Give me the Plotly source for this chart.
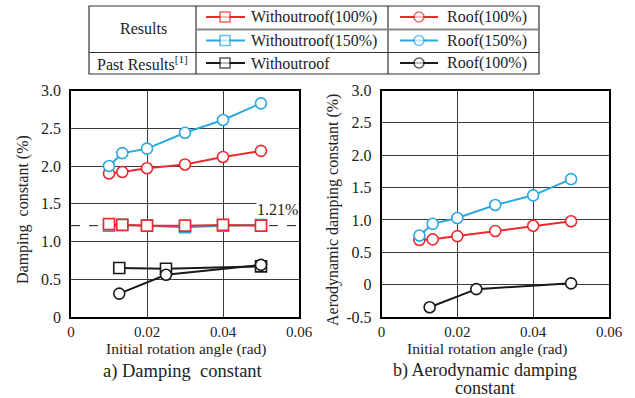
import plotly.graph_objects as go

# ---------------- data ----------------
x_res = [0.010, 0.0135, 0.020, 0.030, 0.040, 0.050]
x_past = [0.0127, 0.025, 0.050]

# a) Damping constant (%)
dc_wo100 = [1.23, 1.22, 1.21, 1.21, 1.22, 1.21]
dc_wo150 = [1.21, 1.22, 1.21, 1.19, 1.21, 1.22]
dc_roof100 = [1.90, 1.92, 1.97, 2.02, 2.12, 2.20]
dc_roof150 = [2.00, 2.17, 2.23, 2.44, 2.61, 2.83]
dc_past_wo = [0.65, 0.64, 0.67]
dc_past_roof = [0.31, 0.56, 0.69]
dc_ref = 1.21

# b) Aerodynamic damping constant (%)
adc_roof100 = [0.69, 0.70, 0.75, 0.83, 0.91, 0.98]
adc_roof150 = [0.76, 0.94, 1.03, 1.23, 1.38, 1.63]
adc_past_roof = [-0.35, -0.07, 0.02]

x_ticks = [0, 0.02, 0.04, 0.06]
x_ticktext = ["0", "0.02", "0.04", "0.06"]
ya_ticks = [0, 0.5, 1.0, 1.5, 2.0, 2.5, 3.0]
ya_ticktext = ["0", "0.5", "1.0", "1.5", "2.0", "2.5", "3.0"]
yb_ticks = [-0.5, 0, 0.5, 1.0, 1.5, 2.0, 2.5, 3.0]
yb_ticktext = ["-0.5", "0", "0.5", "1.0", "1.5", "2.0", "2.5", "3.0"]

legend_labels = ["Withoutroof(100%)", "Roof(100%)", "Withoutroof(150%)", "Roof(150%)",
                 "Withoutroof", "Roof(100%)"]

# ---------------- style ----------------
RED = "#EE2A2E"
BLUE = "#2AA8E0"
BLACK = "#1a1a1a"
FONT = "Liberation Serif, Times New Roman, serif"
W, H = 635, 398

fig = go.Figure()


def series(x, y, color, symbol, xa, ya):
    fig.add_trace(go.Scatter(
        x=x, y=y, mode="lines+markers", xaxis=xa, yaxis=ya,
        line=dict(color=color, width=2),
        marker=dict(symbol=symbol, size=11, color="white",
                    line=dict(color=color, width=1.6)),
        showlegend=False, hoverinfo="skip"))


# reference dashed line in a)
fig.add_trace(go.Scatter(x=[0, 0.06], y=[dc_ref, dc_ref], mode="lines",
                         xaxis="x", yaxis="y",
                         line=dict(color=BLACK, width=1, dash="dash"),
                         showlegend=False, hoverinfo="skip"))

series(x_past, dc_past_wo, BLACK, "square", "x", "y")
series(x_past, dc_past_roof, BLACK, "circle", "x", "y")
series(x_res, dc_wo150, BLUE, "square", "x", "y")
series(x_res, dc_wo100, RED, "square", "x", "y")
series(x_res, dc_roof100, RED, "circle", "x", "y")
series(x_res, dc_roof150, BLUE, "circle", "x", "y")

series(x_past, adc_past_roof, BLACK, "circle", "x2", "y2")
series(x_res, adc_roof100, RED, "circle", "x2", "y2")
series(x_res, adc_roof150, BLUE, "circle", "x2", "y2")

# ---------------- axes ----------------
ydom = [1 - 317 / H, 1 - 90.5 / H]
common_x = dict(range=[0, 0.06], tickvals=x_ticks, ticktext=x_ticktext,
                showgrid=True, gridcolor="#3a3a3a", gridwidth=1,
                showline=True, linecolor="black", linewidth=1.5, mirror=True,
                zeroline=False, ticks="", automargin=False,
                tickfont=dict(family=FONT, size=15, color="#222"))
common_y = dict(showgrid=True, gridcolor="#3a3a3a", gridwidth=1,
                showline=True, linecolor="black", linewidth=1.5, mirror=True,
                zeroline=False, ticks="outside", ticklen=5, tickcolor="rgba(0,0,0,0)",
                automargin=False,
                tickfont=dict(family=FONT, size=16, color="#222"))

fig.update_layout(
    xaxis=dict(domain=[71 / W, 299 / W], anchor="y", **common_x),
    yaxis=dict(domain=ydom, anchor="x", range=[0, 3.0], tickvals=ya_ticks,
               ticktext=ya_ticktext, **common_y),
    xaxis2=dict(domain=[381.5 / W, 609 / W], anchor="y2", **common_x),
    yaxis2=dict(domain=ydom, anchor="x2", range=[-0.5, 3.0], tickvals=yb_ticks,
                ticktext=yb_ticktext, **common_y),
    xaxis3=dict(domain=[0, 1], range=[0, W], visible=False, anchor="y3", fixedrange=True,
                automargin=False),
    yaxis3=dict(domain=[0, 1], range=[H, 0], visible=False, anchor="x3", fixedrange=True,
                automargin=False),
)

# ---------------- legend table (pixel overlay) ----------------
shapes = []
tl = dict(color="#333", width=1.2)
L, R, T, B = 89, 539, 6, 74
C1, C2 = 196, 388
R1, R2 = 29.5, 52.5
shapes.append(dict(type="rect", xref="x3", yref="y3", x0=L, x1=R, y0=T, y1=B, line=tl))
shapes.append(dict(type="line", xref="x3", yref="y3", x0=C1, x1=C1, y0=T, y1=B, line=tl))
shapes.append(dict(type="line", xref="x3", yref="y3", x0=C2, x1=C2, y0=T, y1=B, line=tl))
shapes.append(dict(type="line", xref="x3", yref="y3", x0=C1, x1=R, y0=R1, y1=R1,
                   line=dict(color="#888", width=2)))
shapes.append(dict(type="line", xref="x3", yref="y3", x0=L, x1=R, y0=R2, y1=R2, line=tl))

rows_y = [17, 40.5, 63]
entries = [
    (206, 245, 225, rows_y[0], RED, "square", legend_labels[0], 249),
    (400, 438, 419, rows_y[0], RED, "circle", legend_labels[1], 445),
    (206, 245, 225, rows_y[1], BLUE, "square", legend_labels[2], 249),
    (400, 438, 419, rows_y[1], BLUE, "circle", legend_labels[3], 445),
    (206, 245, 225, rows_y[2], BLACK, "square", legend_labels[4], 249),
    (400, 438, 419, rows_y[2], BLACK, "circle", legend_labels[5], 445),
]
annotations = []
for x0, x1, xm, yy, col, sym, lab, xt in entries:
    fig.add_trace(go.Scatter(
        x=[x0, xm, x1], y=[yy, yy, yy], xaxis="x3", yaxis="y3",
        mode="lines+markers", line=dict(color=col, width=2),
        marker=dict(symbol=sym, size=[0, 10, 0], color="white",
                    line=dict(color=col, width=1.6)),
        showlegend=False, hoverinfo="skip"))
    annotations.append(dict(xref="x3", yref="y3", x=xt, y=yy, text=lab, showarrow=False,
                            xanchor="left", yanchor="middle",
                            font=dict(family=FONT, size=16, color="#222")))

annotations.append(dict(xref="x3", yref="y3", x=143, y=28.5, text="Results", showarrow=False,
                        xanchor="center", yanchor="middle",
                        font=dict(family=FONT, size=16, color="#222")))
annotations.append(dict(xref="x3", yref="y3", x=142, y=63, text="Past Results<sup>[1]</sup>",
                        showarrow=False, xanchor="center", yanchor="middle",
                        font=dict(family=FONT, size=16, color="#222")))

# ---------------- titles / labels ----------------
annotations.append(dict(xref="x", yref="y", x=0.06, y=1.43, text="1.21%", showarrow=False,
                        xanchor="right", yanchor="middle", bgcolor="white", borderpad=0,
                        font=dict(family=FONT, size=16, color="#222")))

for xc, txt in [(186, "Initial rotation angle (rad)"), (487, "Initial rotation angle (rad)")]:
    annotations.append(dict(xref="x3", yref="y3", x=xc, y=349, text=txt, showarrow=False,
                            xanchor="center", yanchor="middle",
                            font=dict(family=FONT, size=15.5, color="#222")))

annotations.append(dict(xref="x3", yref="y3", x=23, y=210, text="Damping\u00a0 constant (%)",
                        showarrow=False, textangle=-90, xanchor="center", yanchor="middle",
                        font=dict(family=FONT, size=16, color="#222")))
annotations.append(dict(xref="x3", yref="y3", x=333, y=210,
                        text="Aerodynamic damping constant (%)",
                        showarrow=False, textangle=-90, xanchor="center", yanchor="middle",
                        font=dict(family=FONT, size=16, color="#222")))

annotations.append(dict(xref="x3", yref="y3", x=183, y=371, text="a) Damping\u00a0 constant",
                        showarrow=False, xanchor="center", yanchor="middle",
                        font=dict(family=FONT, size=18.5, color="#222")))
annotations.append(dict(xref="x3", yref="y3", x=485, y=370.5, text="b) Aerodynamic damping",
                        showarrow=False, xanchor="center", yanchor="middle",
                        font=dict(family=FONT, size=18, color="#222")))
annotations.append(dict(xref="x3", yref="y3", x=485, y=388, text="constant",
                        showarrow=False, xanchor="center", yanchor="middle",
                        font=dict(family=FONT, size=18, color="#222")))

fig.update_layout(
    width=W, height=H, autosize=False,
    margin=dict(l=0, r=0, t=0, b=0, autoexpand=False),
    paper_bgcolor="white", plot_bgcolor="rgba(0,0,0,0)", showlegend=False,
    shapes=shapes, annotations=annotations,
    font=dict(family=FONT, size=16, color="#222"),
)

fig.write_html("out.html", config={"displayModeBar": False},
               post_script="document.body.style.margin='0';document.body.style.overflow='hidden';")
